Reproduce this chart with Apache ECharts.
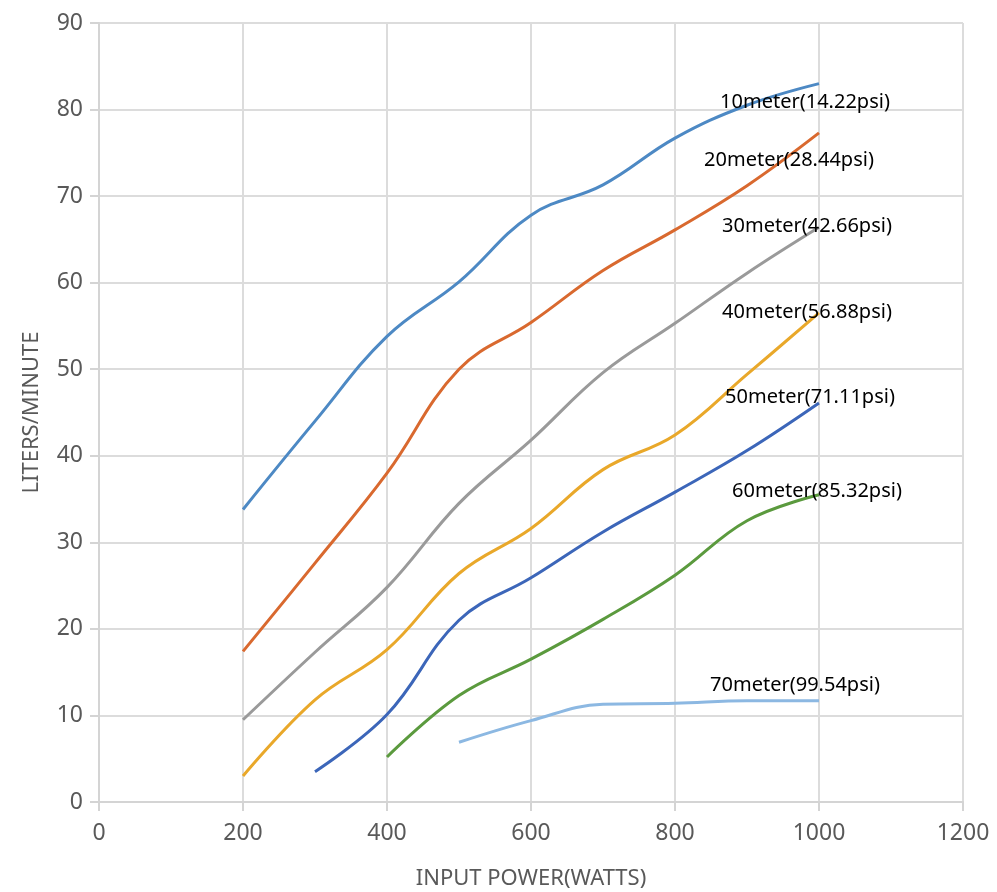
<!DOCTYPE html>
<html>
<head>
<meta charset="utf-8">
<script src="https://cdn.jsdelivr.net/npm/echarts@6/dist/echarts.min.js"></script>
<style>
html,body{margin:0;padding:0;background:#fff;}
#chart{width:997px;height:892px;}
</style>
</head>
<body>
<div id="chart"></div>
<script>
const powerWatts = [200, 300, 400, 500, 600, 700, 800, 900, 1000];
const seriesNames = ['10meter(14.22psi)', '20meter(28.44psi)', '30meter(42.66psi)', '40meter(56.88psi)', '50meter(71.11psi)', '60meter(85.32psi)', '70meter(99.54psi)'];
const flow10m = [33.8, 44.0, 53.8, 60.1, 67.8, 71.3, 76.7, 80.5, 83.0];
const flow20m = [17.4, 27.6, 38.0, 50.0, 55.4, 61.4, 66.1, 71.2, 77.3];
const flow30m = [9.5, 17.3, 24.8, 34.5, 41.8, 49.6, 55.3, 61.1, 66.4];
const flow40m = [3.0, 11.8, 17.6, 26.4, 31.6, 38.4, 42.4, 49.4, 56.5];
const flow50m = [null, 3.5, 10.1, 21.0, 25.9, 31.2, 35.8, 40.6, 46.1];
const flow60m = [null, null, 5.2, 12.3, 16.5, 21.1, 26.2, 32.5, 35.5];
const flow70m = [null, null, null, 6.9, 9.4, 11.3, 11.4, 11.7, 11.7];
const xTicks = [0, 200, 400, 600, 800, 1000, 1200];
const yTicks = [0, 10, 20, 30, 40, 50, 60, 70, 80, 90];

const allFlows = [flow10m, flow20m, flow30m, flow40m, flow50m, flow60m, flow70m];
const colors = ['#4d89c4', '#d9692f', '#9a9a9a', '#e9a82a', '#3c66b9', '#5b9a3e', '#8cb8e2'];
const labelOffsets = [[-14, 19], [-30, 27], [-12, -1], [-12, -1], [-9, -6], [-2, -3], [-24, -15]];

const series = allFlows.map((flows, si) => {
  const pts = [];
  flows.forEach((v, i) => { if (v !== null) pts.push([powerWatts[i], v]); });
  const data = pts.map((p, i) => {
    if (i === pts.length - 1) {
      return {
        value: p,
        label: {
          show: true,
          position: 'inside',
          offset: labelOffsets[si],
          formatter: seriesNames[si],
          color: '#000',
          fontSize: 20,
          fontFamily: 'Noto Sans'
        }
      };
    }
    return { value: p };
  });
  return {
    name: seriesNames[si],
    type: 'line',
    smooth: 0.4,
    symbol: 'circle',
    symbolSize: 0,
    showSymbol: true,
    data: data,
    lineStyle: { color: colors[si], width: 3 },
    itemStyle: { color: colors[si] },
    emphasis: { disabled: true },
    z: 3
  };
});

const chart = echarts.init(document.getElementById('chart'), null, { renderer: 'canvas' });
chart.setOption({
  animation: false,
  backgroundColor: '#fff',
  grid: { left: 99, right: 34, top: 23, bottom: 90, containLabel: false, outerBoundsMode: 'none' },
  xAxis: {
    type: 'value',
    min: xTicks[0],
    max: xTicks[xTicks.length - 1],
    interval: 200,
    name: 'INPUT POWER(WATTS)',
    nameLocation: 'middle',
    nameGap: 66,
    nameTextStyle: { color: '#595959', fontSize: 22, fontFamily: 'Noto Sans' },
    axisLine: { show: true, lineStyle: { color: '#d4d4d4', width: 2 } },
    axisTick: { show: true, length: 9, lineStyle: { color: '#d4d4d4', width: 2 } },
    axisLabel: { color: '#595959', fontSize: 23, fontFamily: 'Noto Sans', margin: 20, formatter: v => String(v) },
    splitLine: { show: true, lineStyle: { color: '#dcdcdc', width: 2 } }
  },
  yAxis: {
    type: 'value',
    min: yTicks[0],
    max: yTicks[yTicks.length - 1],
    interval: 10,
    name: 'LITERS/MINUTE',
    nameLocation: 'middle',
    nameGap: 56,
    nameRotate: 90,
    nameTextStyle: { color: '#595959', fontSize: 22, fontFamily: 'Noto Sans' },
    axisLine: { show: true, lineStyle: { color: '#d4d4d4', width: 2 } },
    axisTick: { show: true, length: 9, lineStyle: { color: '#d4d4d4', width: 2 } },
    axisLabel: { color: '#595959', fontSize: 23, fontFamily: 'Noto Sans', margin: 16, formatter: v => String(v) },
    splitLine: { show: true, lineStyle: { color: '#dcdcdc', width: 2 } }
  },
  series: series
});
</script>
</body>
</html>
